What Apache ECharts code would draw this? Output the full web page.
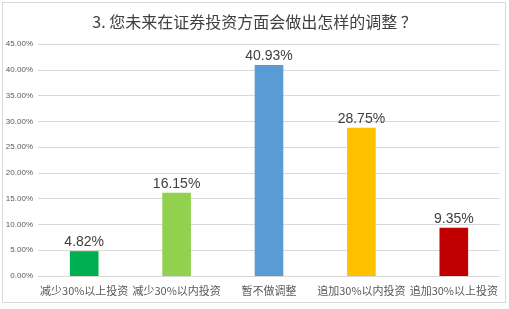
<!DOCTYPE html>
<html><head><meta charset="utf-8">
<script src="https://cdn.jsdelivr.net/npm/echarts@6/dist/echarts.min.js"></script>
<style>html,body{margin:0;padding:0;background:#fff}#c{width:509px;height:309px}
#frame{position:absolute;left:2px;top:2px;width:502px;height:299px;border:1px solid #d9d9d9;pointer-events:none}</style>
</head><body><div id="c"></div><div id="frame"></div>
<script>
const title = '3. 您未来在证券投资方面会做出怎样的调整 ？';
const categories = ['减少30%以上投资','减少30%以内投资','暂不做调整','追加30%以内投资','追加30%以上投资'];
const values = [4.82, 16.15, 40.93, 28.75, 9.35];
const colors = ['#00B050','#92D050','#5B9BD5','#FFC000','#C00000'];
const chart = echarts.init(document.getElementById('c'));
chart.setOption({
  animation:false,
  title:{text:title,left:'center',top:9,textStyle:{fontSize:16,fontWeight:'normal',color:'#404040',fontFamily:'Noto Sans CJK SC'}},
  grid:{left:38,right:9,top:44,bottom:33},
  xAxis:{type:'category',data:categories,axisTick:{show:false},
    axisLine:{lineStyle:{color:'#d9d9d9'}},
    axisLabel:{fontSize:11,color:'#595959',margin:9,interval:0,fontFamily:'Noto Sans CJK SC'}},
  yAxis:{type:'value',min:0,max:45,interval:5,
    axisLabel:{fontSize:8,color:'#595959',margin:5,formatter:v=>v.toFixed(2)+'%'},
    splitLine:{lineStyle:{color:'#d9d9d9'}}},
  series:[{type:'bar',barWidth:'31%',
    data:values.map((v,i)=>({value:v,itemStyle:{color:colors[i]}})),
    label:{show:true,position:'top',fontSize:14,color:'#404040',distance:2,formatter:p=>p.value.toFixed(2)+'%'}}]
});
</script></body></html>
